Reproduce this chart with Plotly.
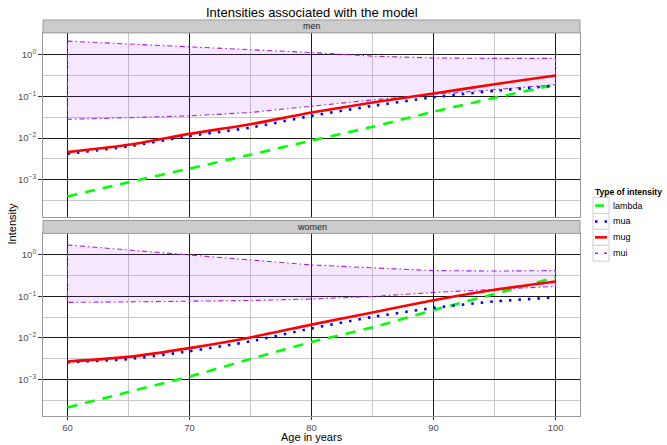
import plotly.graph_objects as go

# ---------------- data ----------------
ages = [60, 65, 70, 75, 80, 85, 90, 95, 100]

men_lambda = [0.00040, 0.00087, 0.00186, 0.0040, 0.0087, 0.0186, 0.043, 0.092, 0.19]
men_mua = [0.0042, 0.0063, 0.0112, 0.0178, 0.034, 0.059, 0.095, 0.135, 0.18]
men_mug = [0.0046, 0.0069, 0.0126, 0.0214, 0.041, 0.071, 0.117, 0.195, 0.316]
men_mui_upper = [2.1, 1.8, 1.48, 1.3, 1.12, 0.92, 0.83, 0.81, 0.81]
men_mui_lower = [0.028, 0.031, 0.034, 0.041, 0.057, 0.082, 0.11, 0.147, 0.19]

women_lambda = [0.00021, 0.0005, 0.00118, 0.0031, 0.0080, 0.018, 0.047, 0.115, 0.29]
women_mua = [0.0026, 0.0031, 0.0048, 0.0083, 0.0170, 0.032, 0.053, 0.076, 0.095]
women_mug = [0.0027, 0.0035, 0.0057, 0.0103, 0.021, 0.041, 0.081, 0.145, 0.23]
women_mui_upper = [1.74, 1.32, 1.0, 0.76, 0.575, 0.49, 0.42, 0.41, 0.42]
women_mui_lower = [0.072, 0.074, 0.076, 0.08, 0.087, 0.10, 0.125, 0.15, 0.175]

panel_names = ["men", "women"]
series_names = ["lambda", "mua", "mug", "mui"]
x_major = [60, 70, 80, 90, 100]
x_minor = [65, 75, 85, 95]
y_major = [0.001, 0.01, 0.1, 1]
y_major_text = ["10<sup>−3</sup>", "10<sup>−2</sup>", "10<sup>−1</sup>", "10<sup>0</sup>"]
y_minor = [10 ** -3.5, 10 ** -2.5, 10 ** -1.5, 10 ** -0.5]

# ---------------- styles ----------------
FONT = "Liberation Sans, Arial, Helvetica, sans-serif"
C_LAMBDA = "#00FF00"
C_MUA = "#0000FF"
C_MUG = "#FF0000"
C_MUI = "#A020F0"
RIBBON = "rgba(160,32,240,0.11)"
DASH_LAMBDA = "10px,8px"
DASH_MUA = "2.5px,7px"
DASH_MUI = "5px,3px,1.5px,3px"

W, H = 667, 445
L, R, T, B = 43, 87, 20, 26
PW, PH = W - L - R, H - T - B


def px(x):
    return (x - L) / PW


def py(y):
    return (H - B - y) / PH


fig = go.Figure()

panels = [
    ("x", "y", men_lambda, men_mua, men_mug, men_mui_upper, men_mui_lower),
    ("x2", "y2", women_lambda, women_mua, women_mug, women_mui_upper, women_mui_lower),
]

for xa, ya, lam, mua, mug, up, lo in panels:
    rx = ages + ages[::-1] + [ages[0]]
    ry = up + lo[::-1] + [up[0]]
    fig.add_trace(go.Scatter(x=rx, y=ry, mode="lines", fill="toself", fillcolor=RIBBON,
                             line=dict(color=C_MUI, width=1.1, dash=DASH_MUI),
                             xaxis=xa, yaxis=ya, showlegend=False, hoverinfo="skip"))
    fig.add_trace(go.Scatter(x=ages, y=lam, mode="lines",
                             line=dict(color=C_LAMBDA, width=2.6, dash=DASH_LAMBDA,
                                       shape="spline", smoothing=0.5),
                             xaxis=xa, yaxis=ya, showlegend=False, name="lambda"))
    fig.add_trace(go.Scatter(x=ages, y=mua, mode="lines",
                             line=dict(color=C_MUA, width=2.6, dash=DASH_MUA,
                                       shape="spline", smoothing=0.6),
                             xaxis=xa, yaxis=ya, showlegend=False, name="mua"))
    fig.add_trace(go.Scatter(x=ages, y=mug, mode="lines",
                             line=dict(color=C_MUG, width=2.6, shape="spline", smoothing=0.6),
                             xaxis=xa, yaxis=ya, showlegend=False, name="mug"))

GRID_MAJ = "#1a1a1a"
GRID_MIN = "#c8c8c8"
BORDER = "#9a9a9a"
TICKFONT = dict(family=FONT, size=9.5, color="#4d4d4d")

common_x = dict(range=[58, 102], tickmode="array", tickvals=x_major,
                showgrid=True, gridcolor=GRID_MAJ, gridwidth=0.9, zeroline=False,
                showline=True, mirror=True, linecolor=BORDER, linewidth=1,
                minor=dict(tickmode="array", tickvals=x_minor, showgrid=True,
                           gridcolor=GRID_MIN, gridwidth=1),
                tickfont=TICKFONT)
common_y = dict(type="log", range=[-3.88, 0.52], tickmode="array", tickvals=y_major,
                ticktext=y_major_text, ticks="outside", ticklen=4, tickcolor="#333333",
                showgrid=True, gridcolor=GRID_MAJ, gridwidth=0.9, zeroline=False,
                showline=True, mirror=True, linecolor=BORDER, linewidth=1,
                minor=dict(tickmode="array", tickvals=y_minor, showgrid=True,
                           gridcolor=GRID_MIN, gridwidth=1),
                tickfont=TICKFONT)

fig.update_layout(
    width=W, height=H,
    margin=dict(l=L, r=R, t=T, b=B),
    paper_bgcolor="white", plot_bgcolor="white",
    font=dict(family=FONT, color="black"),
    showlegend=False,
    xaxis=dict(domain=[0, 1], anchor="y", showticklabels=False, ticks="", **common_x),
    xaxis2=dict(domain=[0, 1], anchor="y2", matches="x", showticklabels=True,
                ticks="outside", ticklen=3, tickcolor="#333333", **common_x),
    yaxis=dict(domain=[py(218), py(33)], anchor="x", **common_y),
    yaxis2=dict(domain=[0, py(235)], anchor="x2", **common_y),
)

shapes = []
annotations = []

# facet strips
strips = [(20, 33, panel_names[0]), (222, 235, panel_names[1])]
for top, bot, label in strips:
    shapes.append(dict(type="rect", xref="paper", yref="paper", x0=0, x1=1,
                       y0=py(bot), y1=py(top), fillcolor="#cccccc",
                       line=dict(color=BORDER, width=1), layer="above"))
    annotations.append(dict(xref="paper", yref="paper", x=0.5, y=py((top + bot) / 2),
                            text=label, showarrow=False, xanchor="center", yanchor="middle",
                            font=dict(family=FONT, size=9, color="#1a1a1a")))

# titles
annotations.append(dict(xref="paper", yref="paper", x=0.5, y=py(12.5),
                        text="Intensities associated with the model", showarrow=False,
                        xanchor="center", yanchor="middle",
                        font=dict(family=FONT, size=13, color="black")))
annotations.append(dict(xref="paper", yref="paper", x=0.5, y=py(447.5),
                        text="Age in years", showarrow=False,
                        xanchor="center", yanchor="bottom", borderpad=0,
                        font=dict(family=FONT, size=11, color="black")))
annotations.append(dict(xref="paper", yref="paper", x=px(12), y=py(226),
                        text="Intensity", showarrow=False, textangle=-90,
                        xanchor="center", yanchor="middle",
                        font=dict(family=FONT, size=11, color="black")))

# legend (drawn manually to match compact key boxes)
annotations.append(dict(xref="paper", yref="paper", x=px(593), y=py(193),
                        text="<b>Type of intensity</b>", showarrow=False,
                        xanchor="left", yanchor="middle",
                        font=dict(family=FONT, size=8.5, color="black")))
key_styles = [
    (C_LAMBDA, 2.6, "solid", 595, 604),
    (C_MUA, 2.6, DASH_MUA, 595, 608),
    (C_MUG, 2.6, "solid", 595, 607),
    (C_MUI, 1.6, "3px,6px", 595, 608),
]
for i, name in enumerate(series_names):
    top = 199 + 16 * i
    shapes.append(dict(type="rect", xref="paper", yref="paper",
                       x0=px(593), x1=px(609), y0=py(top + 16), y1=py(top),
                       fillcolor="white", line=dict(color="#d0d0d0", width=1)))
    col, wd, dash, xa0, xa1 = key_styles[i]
    shapes.append(dict(type="line", xref="paper", yref="paper",
                       x0=px(xa0), x1=px(xa1), y0=py(top + 8), y1=py(top + 8),
                       line=dict(color=col, width=wd, dash=dash)))
    annotations.append(dict(xref="paper", yref="paper", x=px(611), y=py(top + 8),
                            text=name, showarrow=False, xanchor="left", yanchor="middle",
                            font=dict(family=FONT, size=9, color="black")))

fig.update_layout(shapes=shapes, annotations=annotations)
fig.write_html("out.html")
